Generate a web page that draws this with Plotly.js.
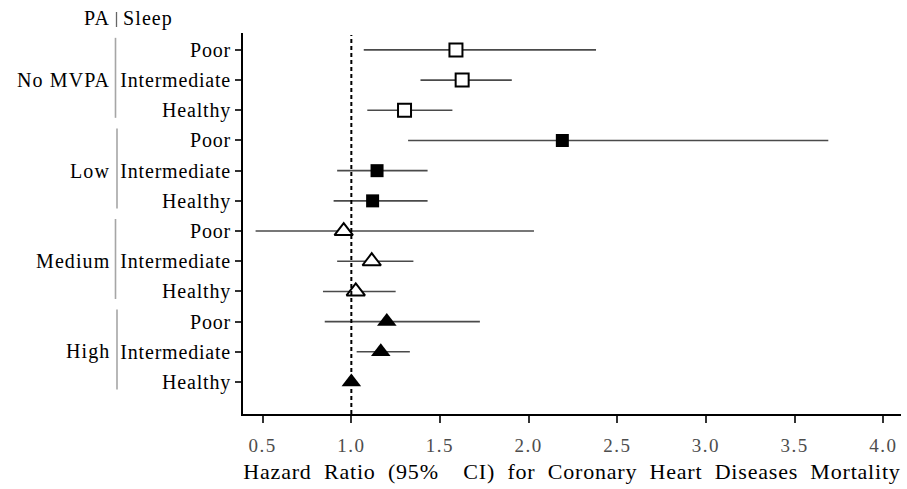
<!DOCTYPE html>
<html>
<head>
<meta charset="utf-8">
<script src="https://cdn.plot.ly/plotly-3.0.1.min.js"></script>
<style>
  html, body { margin: 0; padding: 0; background: #fff; }
  #chart { width: 907px; height: 489px; }
  .xtitle { letter-spacing: 0.8px; word-spacing: 6px; }
  .ytick text { letter-spacing: 0.8px; }
  .xtick text { letter-spacing: 1.5px; }
  .annotation-text { letter-spacing: 1.1px; }
</style>
</head>
<body>
<div id="chart"></div>
<script>
// ---- data ----
const paGroups = ["No MVPA", "Low", "Medium", "High"];
const sleepLevels = ["Poor", "Intermediate", "Healthy"];
// hazard ratios, rows in display order (PA group x sleep level)
const hrNoMVPA = [1.59, 1.625, 1.30];
const loNoMVPA = [1.07, 1.39, 1.09];
const hiNoMVPA = [2.38, 1.905, 1.57];

const hrLow = [2.19, 1.145, 1.12];
const loLow = [1.32, 0.92, 0.90];
const hiLow = [3.69, 1.43, 1.43];

const hrMedium = [0.957, 1.115, 1.025];
const loMedium = [0.46, 0.92, 0.84];
const hiMedium = [2.03, 1.35, 1.25];

const hrHigh = [1.20, 1.166, 1.00];
const loHigh = [0.85, 1.03, 1.00];
const hiHigh = [1.725, 1.33, 1.00];

const xTickVals = [0.5, 1.0, 1.5, 2.0, 2.5, 3.0, 3.5, 4.0];
const xTickText = ["0.5", "1.0", "1.5", "2.0", "2.5", "3.0", "3.5", "4.0"];
const refLine = 1.0;

// ---- build ----
const FONT = "Liberation Serif";
const groupData = [
  {hr: hrNoMVPA, lo: loNoMVPA, hi: hiNoMVPA},
  {hr: hrLow, lo: loLow, hi: hiLow},
  {hr: hrMedium, lo: loMedium, hi: hiMedium},
  {hr: hrHigh, lo: loHigh, hi: hiHigh}
];
const markerStyles = [
  {symbol: "square", size: 13, color: "#ffffff", line: {color: "#000", width: 2}},
  {symbol: "square", size: 13, color: "#000000", line: {color: "#000", width: 0}},
  {symbol: "triangle-up", size: 16, color: "#ffffff", line: {color: "#000", width: 2}},
  {symbol: "triangle-up", size: 17, color: "#000000", line: {color: "#000", width: 0}}
];

const yRange = [13.06, 0.44];
const nLev = sleepLevels.length;
const traces = [];
const tickVals = [], tickText = [];
groupData.forEach((g, gi) => {
  const ys = sleepLevels.map((s, si) => gi * nLev + si + 1);
  ys.forEach((y, si) => { tickVals.push(y); tickText.push(sleepLevels[si]); });
  traces.push({
    type: "scatter", mode: "markers",
    x: g.hr, y: ys,
    name: paGroups[gi],
    marker: markerStyles[gi],
    error_x: {
      type: "data", symmetric: false,
      array: g.hi.map((v, i) => v - g.hr[i]),
      arrayminus: g.hr.map((v, i) => v - g.lo[i]),
      color: "#4a4a4a", thickness: 1.6, width: 0
    },
    cliponaxis: false,
    hoverinfo: "skip"
  });
});

const plotL = 243, plotR = 6, plotT = 33, plotB = 75;
const W = 907, H = 489;
const pw = W - plotL - plotR, ph = H - plotT - plotB;
const px2paperX = px => (px - plotL) / pw;
const px2paperY = py => (H - plotB - py) / ph;
const y2paper = y => (yRange[0] - y) / (yRange[0] - yRange[1]);

const shapes = [{
  type: "line", xref: "x", yref: "paper",
  x0: refLine, x1: refLine, y0: 0, y1: 0.995,
  line: {color: "#000", width: 2, dash: "4px,3px"}, layer: "above"
}];
const annotations = [];
paGroups.forEach((name, gi) => {
  const first = gi * nLev + 1, last = gi * nLev + nLev;
  const lx = gi % 2 === 0 ? 115.5 : 117;
  shapes.push({
    type: "line", xref: "paper", yref: "paper",
    x0: px2paperX(lx), x1: px2paperX(lx),
    y0: y2paper(first - 0.4), y1: y2paper(last + 0.25),
    line: {color: "#a6a6a6", width: 1.6}
  });
  annotations.push({
    xref: "paper", yref: "paper",
    x: px2paperX(112), y: y2paper((first + last) / 2),
    xanchor: "right", yanchor: "middle",
    text: name, showarrow: false,
    font: {family: FONT, size: 20, color: "#000"}
  });
});
// header "PA | Sleep"
annotations.push({
  xref: "paper", yref: "paper", x: px2paperX(112), y: px2paperY(18),
  xanchor: "right", yanchor: "middle", text: "PA", showarrow: false,
  font: {family: FONT, size: 20, color: "#000"}
});
annotations.push({
  xref: "paper", yref: "paper", x: px2paperX(121), y: px2paperY(18),
  xanchor: "left", yanchor: "middle", text: "Sleep", showarrow: false,
  font: {family: FONT, size: 20, color: "#000"}
});
shapes.push({
  type: "line", xref: "paper", yref: "paper",
  x0: px2paperX(116.5), x1: px2paperX(116.5),
  y0: px2paperY(27), y1: px2paperY(12),
  line: {color: "#666", width: 1.3}
});

const layout = {
  width: W, height: H,
  margin: {l: plotL, r: plotR, t: plotT, b: plotB, pad: 0},
  paper_bgcolor: "#fff", plot_bgcolor: "#fff",
  showlegend: false,
  font: {family: FONT, size: 20, color: "#000"},
  xaxis: {
    range: [0.389, 4.10],
    tickvals: xTickVals, ticktext: xTickText,
    showgrid: false, zeroline: false,
    showline: true, linecolor: "#000", linewidth: 2,
    ticks: "outside", ticklen: 7, tickwidth: 2, tickcolor: "#333",
    ticklabelstandoff: 6,
    tickfont: {family: FONT, size: 19, color: "#4d4d4d"},
    title: {text: "Hazard Ratio (95%\u00a0 CI) for Coronary Heart Diseases Mortality",
            font: {family: FONT, size: 22, color: "#000"}, standoff: 9}
  },
  yaxis: {
    range: yRange,
    tickvals: tickVals, ticktext: tickText,
    showgrid: false, zeroline: false,
    showline: true, linecolor: "#000", linewidth: 2,
    ticks: "outside", ticklen: 6, tickwidth: 2, tickcolor: "#333",
    tickfont: {family: FONT, size: 20, color: "#000"}
  },
  shapes: shapes,
  annotations: annotations
};

Plotly.newPlot("chart", traces, layout, {displayModeBar: false, staticPlot: true});
</script>
</body>
</html>
